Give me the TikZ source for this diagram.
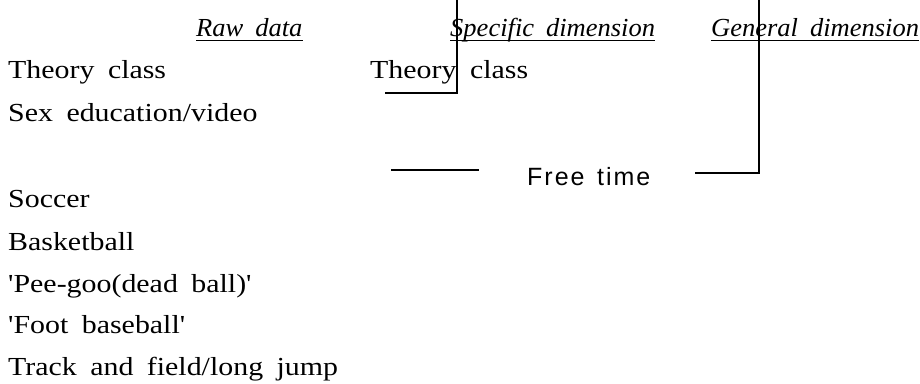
\documentclass[tikz,border=0pt]{standalone}
\usepackage{fontspec}
\setmainfont{Liberation Serif}[Ligatures=TeXOff, FakeStretch=1.15, WordSpace=1.8,
  ItalicFeatures={FakeStretch=1.02}]
\newfontfamily\freefont{Liberation Sans}[LetterSpace=8, WordSpace=1.4]
\usepackage{tikz}
\usetikzlibrary{positioning,calc}

\begin{document}
\begin{tikzpicture}[x=1pt, y=-1pt,
  item/.style={inner sep=0pt, anchor=base west, font=\fontsize{26}{30}\selectfont},
  head/.style={item, font=\fontsize{26}{30}\selectfont\itshape},
  free/.style={item, font=\fontsize{25}{30}\freefont},
  uline/.style={line width=1.3pt, black},
  link/.style={line width=1.6pt, black}
]
  \useasboundingbox (0,0) rectangle (920,383);

  % column headings
  \node[head] (hraw) at (196,36) {Raw data};
  \node[head] (hspec) at (450,36) {Specific dimension};
  \node[head] (hgen) at (711,36) {General dimension};
  \foreach \h in {hraw,hspec,hgen}
    \draw[uline] ([yshift=-4.5pt]\h.base west) -- ([yshift=-4.5pt]\h.base east);

  % raw data
  \node[item] (theory) at (8,78) {Theory class};
  \node[item] (sexed) at (8,121) {Sex education/video};
  \node[item] (soccer) at (8,207) {Soccer};
  \node[item] (basket) at (8,250) {Basketball};
  \node[item] (peegoo) at (8,292) {'Pee-goo(dead ball)'};
  \node[item] (footb) at (8,333) {'Foot baseball'};
  \node[item] (track) at (8,375) {Track and field/long jump};

  % specific dimensions
  \node[item] (stheory) at (370,78) {Theory class};
  \node[free] (sfree) at (527,185) {Free time};

  % brackets
  \coordinate (b1top) at (457,0);
  \coordinate (b1bot) at (457,93);
  \coordinate (b1end) at (385,93);
  \coordinate (b2top) at (759,0);
  \coordinate (b2bot) at (759,173);
  \coordinate (b2end) at (695,173);
  \coordinate (f1a) at (391,170);
  \coordinate (f1b) at (479,170);

  \draw[link] (b1top) -- (b1bot) -- (b1end);
  \draw[link] (b2top) -- (b2bot) -- (b2end);
  \draw[link] (f1a) -- (f1b);
\end{tikzpicture}
\end{document}
